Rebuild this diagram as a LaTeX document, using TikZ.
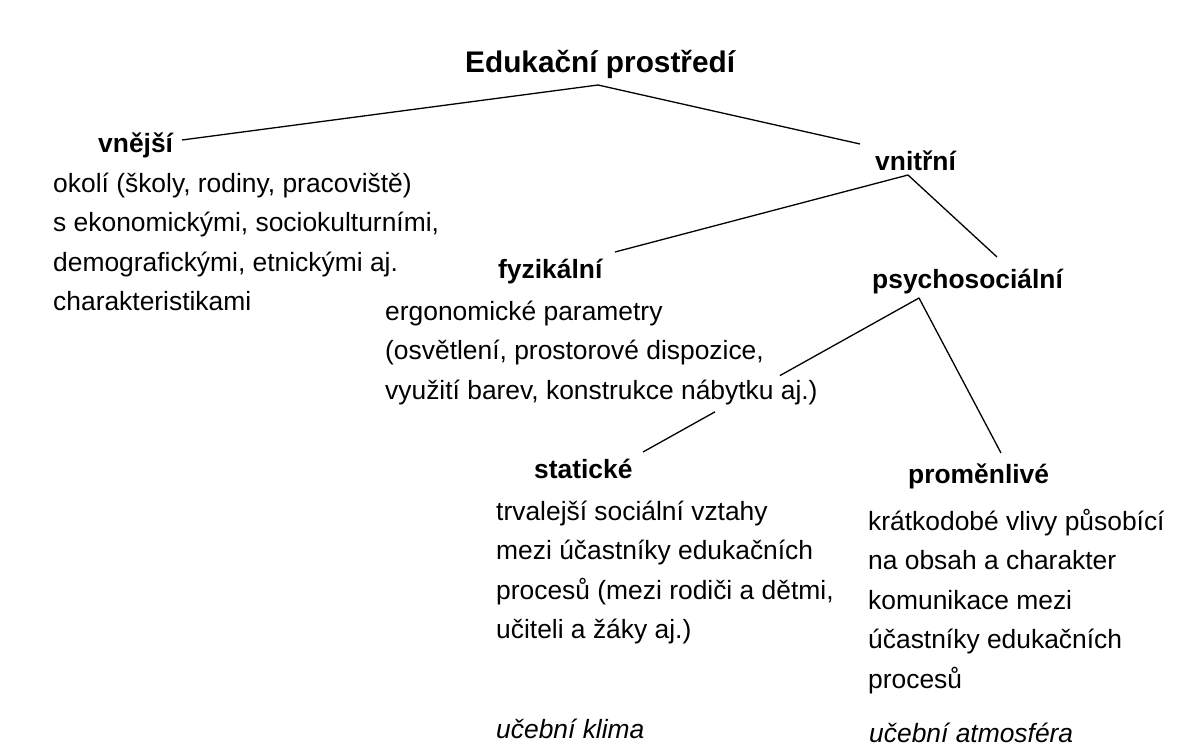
\documentclass[tikz,border=0pt]{standalone}
\usepackage{fontspec}
\setmainfont{Liberation Sans}
\usetikzlibrary{calc}
\tikzset{
 ttl/.style={font=\bfseries\fontsize{29.8}{34}\selectfont, inner sep=0pt, anchor=base west},
 lbl/.style={font=\bfseries\fontsize{26.4}{30}\selectfont, inner sep=0pt, anchor=base west},
 txtw/.style={font=\fontsize{26.4}{39.5}\selectfont, inner sep=0pt, anchor=base west},
 itx/.style={font=\itshape\fontsize{26.4}{30}\selectfont, inner sep=0pt, anchor=base west},
 conn/.style={line width=1.3pt, black, line join=round},
}
\newcommand{\blk}[1]{\begin{tabular}[t]{@{}l@{}}#1\end{tabular}}
\begin{document}
\begin{tikzpicture}[x=1pt,y=-1pt]
\useasboundingbox[fill=white] (0,0) rectangle (1185,749);
% texts
\node[ttl] (root) at (465,73) {Edukační prostředí};
\node[lbl] (vne) at (98,153) {vnější};
\node[txtw] (vnetx) at (53,192) {\blk{okolí (školy, rodiny, pracoviště)\\ s ekonomickými, sociokulturními,\\ demografickými, etnickými aj.\\ charakteristikami}};
\node[lbl] (vni) at (875,170) {vnitřní};
\node[lbl] (fyz) at (498,278) {fyzikální};
\node[txtw] (fyztx) at (385,320) {\blk{ergonomické parametry\\ (osvětlení, prostorové dispozice,\\ využití barev, konstrukce nábytku aj.)}};
\node[lbl] (psy) at (872,288) {psychosociální};
\node[lbl] (sta) at (534,478) {statické};
\node[txtw] (statx) at (496,520) {\blk{trvalejší sociální vztahy\\ mezi účastníky edukačních\\ procesů (mezi rodiči a dětmi,\\ učiteli a žáky aj.)}};
\node[itx] (klima) at (496,738) {učební klima};
\node[lbl] (pro) at (908,483) {proměnlivé};
\node[txtw] (protx) at (868,530) {\blk{krátkodobé vlivy působící\\ na obsah a charakter\\ komunikace mezi\\ účastníky edukačních\\ procesů}};
\node[itx] (atmo) at (869,742) {učební atmosféra};
% connector points
\coordinate (a0) at (598,85);
\coordinate (a0l) at (182,140);
\coordinate (a0r) at (860,144);
\coordinate (a1) at (908,175);
\coordinate (a1l) at (615,252);
\coordinate (a1r) at (997,257);
\coordinate (a2) at (919,298);
\coordinate (a2l) at (643,452);
\coordinate (a2r) at (1001,453);
% connectors
\draw[conn] (a0l) -- (a0) -- (a0r);
\draw[conn] (a1l) -- (a1) -- (a1r);
\draw[conn] ($(a2)!0.504!(a2l)$) -- (a2) -- (a2r);
\draw[conn] ($(a2)!0.739!(a2l)$) -- (a2l);
\end{tikzpicture}
\end{document}
